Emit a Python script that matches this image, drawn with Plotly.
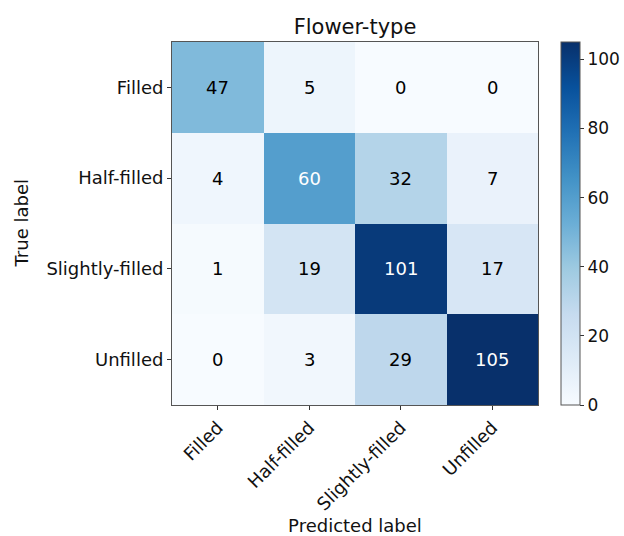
import plotly.graph_objects as go

# Confusion matrix for flower-type classification
labels = ["Filled", "Half-filled", "Slightly-filled", "Unfilled"]
counts = [
    [47, 5, 0, 0],
    [4, 60, 32, 7],
    [1, 19, 101, 17],
    [0, 3, 29, 105],
]
cbar_ticks = [0, 20, 40, 60, 80, 100]

# Matplotlib-style "Blues" colour ramp
blues = ["#f7fbff", "#deebf7", "#c6dbef", "#9ecae1", "#6baed6",
         "#4292c6", "#2171b5", "#08519c", "#08306b"]
colorscale = [[i / (len(blues) - 1), c] for i, c in enumerate(blues)]

zmax = max(max(r) for r in counts)
thresh = zmax / 2.0
FONT = "DejaVu Sans"

# plot area in pixels
L, R, T, B = 172, 538, 42, 405
W, H = 624, 536
pw = R - L

fig = go.Figure(go.Heatmap(
    z=counts, x=labels, y=labels,
    colorscale=colorscale, zmin=0, zmax=zmax,
    colorbar=dict(
        x=(561 - L) / pw, xanchor="left", xpad=0, ypad=0,
        y=1.0, yanchor="top", len=1.0,
        thickness=19, outlinewidth=1, outlinecolor="#555",
        tickvals=cbar_ticks, ticks="outside", ticklen=4, tickcolor="#333",
        tickfont=dict(size=17, color="#111", family=FONT),
    ),
    hoverinfo="skip",
))

for i, row in enumerate(counts):
    for j, v in enumerate(row):
        fig.add_annotation(
            x=labels[j], y=labels[i], text=str(v), showarrow=False,
            font=dict(size=18, family=FONT,
                      color="white" if v > thresh else "black"),
        )

# y-axis title
fig.add_annotation(
    text="True label", xref="paper", yref="paper",
    x=(21 - L) / pw, y=0.5, xanchor="center", yanchor="middle",
    textangle=-90, showarrow=False,
    font=dict(size=18, color="#111", family=FONT),
)

axis_common = dict(
    showline=True, mirror=True, linecolor="#555", linewidth=1,
    ticks="outside", ticklen=4, tickcolor="#333", showgrid=False,
    tickfont=dict(size=18, color="#111", family=FONT),
)

fig.update_layout(
    width=W, height=H,
    margin=dict(l=L, r=W - R, t=T, b=H - B, autoexpand=False),
    paper_bgcolor="white", plot_bgcolor="white",
    title=dict(text="Flower-type", x=0.5 * (L + R) / W, xanchor="center",
               y=1 - 27 / H, yanchor="middle",
               font=dict(size=21, color="#111", family=FONT)),
    xaxis=dict(axis_common, tickangle=-45, automargin=False,
               title=dict(text="Predicted label", standoff=2,
                          font=dict(size=18, color="#111", family=FONT))),
    yaxis=dict(axis_common, autorange="reversed", automargin=False),
)

fig.write_html("out.html")
